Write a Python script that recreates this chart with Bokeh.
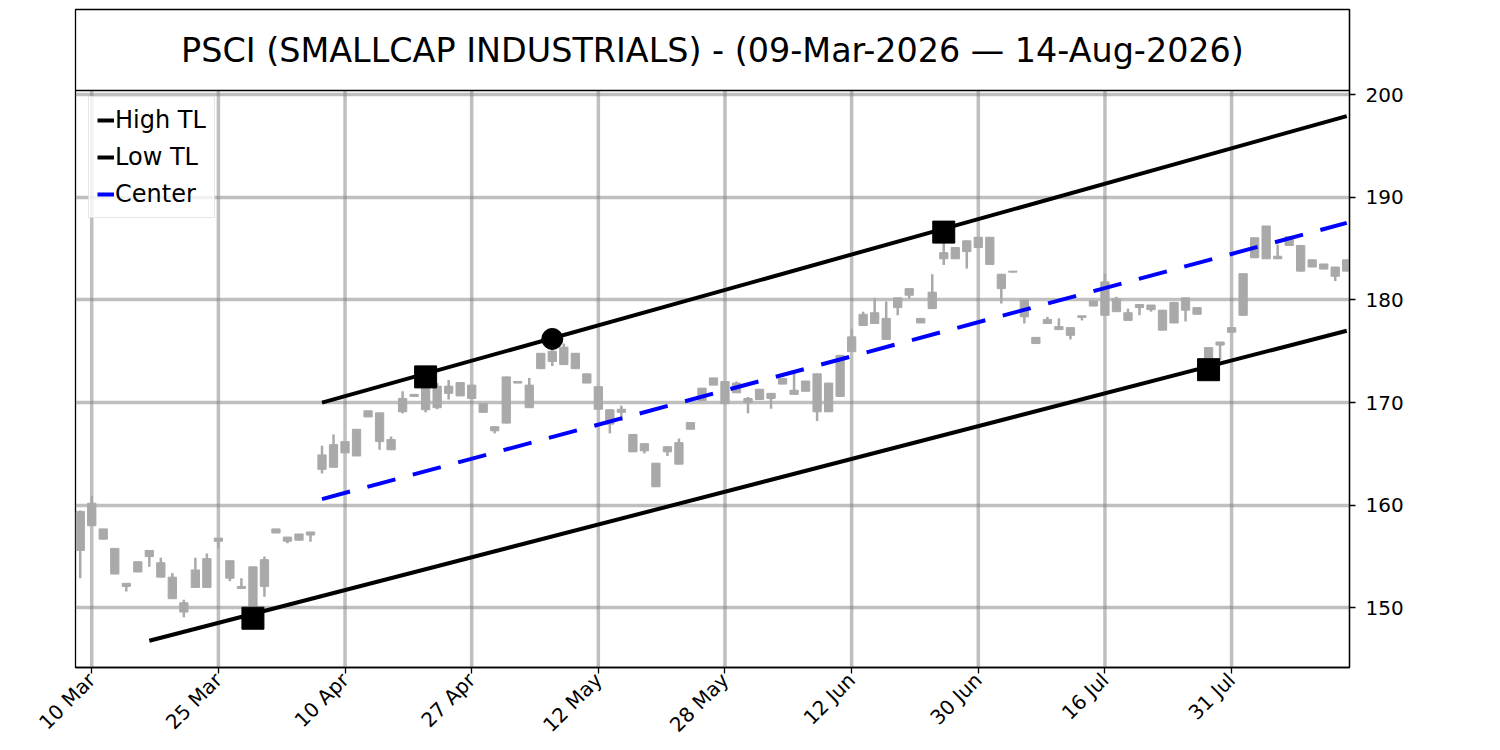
import math
from bokeh.plotting import figure
from bokeh.models import Range1d, FixedTicker, ColumnDataSource, Legend, LegendItem, Span
from bokeh.embed import file_html
from bokeh.resources import INLINE
from bokeh.core.properties import value

title_text = "PSCI (SMALLCAP INDUSTRIALS) - (09-Mar-2026 \u2014 14-Aug-2026)"

tick_index = [1, 12, 23, 34, 45, 56, 67, 78, 89, 100]
tick_labels = ["10 Mar", "25 Mar", "10 Apr", "27 Apr", "12 May",
               "28 May", "12 Jun", "30 Jun", "16 Jul", "31 Jul"]
y_ticks = [150, 160, 170, 180, 190, 200]

opens = [
    155.6, 158.0, 157.7, 155.8, 152.4, 154.5, 155.6, 154.4, 153.0, 150.5,
    152.0, 152.0, 156.8, 154.6, 152.1, 154.0, 152.1, 157.3, 156.9, 157.2,
    157.4, 163.5, 163.7, 166.2, 164.8, 169.2, 169.0, 166.4, 169.1, 170.8,
    169.3, 171.6, 170.9, 171.95, 171.7, 169.9, 167.65, 168.0, 172.05, 169.5,
    173.3, 174.0, 175.4, 174.8, 172.8, 171.55, 169.3, 169.35, 166.9, 166.0,
    164.1, 165.2, 164.0, 167.4, 170.2, 171.7, 172.05, 171.9, 170.4, 171.3,
    170.9, 171.8, 171.2, 172.1, 172.8, 169.1, 170.6, 174.95, 177.5, 178.75,
    178.2, 179.25, 180.45, 178.2, 179.15, 184.0, 185.1, 185.75, 185.1, 186.1,
    182.5, 182.8, 180.0, 176.35, 177.7, 177.4, 177.3, 178.45, 179.4, 178.5,
    180.1, 178.75, 179.55, 179.5, 179.0, 177.75, 180.2, 179.25, 174.0, 175.9,
    176.85, 178.5, 184.1, 187.2, 184.25, 186.15, 185.3, 183.9, 183.5, 183.2, 182.8,
]
closes = [
    159.4, 160.2, 156.7, 153.3, 152.1, 153.5, 155.0, 153.0, 150.9, 149.6,
    153.7, 154.8, 156.5, 152.9, 151.9, 150.0, 154.7, 157.7, 156.5, 156.6,
    157.1, 164.9, 165.9, 165.1, 167.4, 168.6, 166.2, 165.4, 170.4, 170.6,
    171.6, 169.5, 171.6, 170.65, 170.4, 169.05, 167.25, 172.5, 171.9, 171.7,
    174.8, 175.0, 173.7, 173.3, 171.9, 169.35, 167.9, 169.05, 165.2, 165.3,
    161.8, 165.7, 166.1, 168.05, 171.4, 172.4, 169.9, 170.95, 170.0, 170.3,
    170.4, 172.35, 170.8, 171.1, 169.1, 171.9, 174.6, 176.4, 178.6, 177.7,
    176.15, 180.2, 181.1, 177.75, 180.75, 184.6, 184.0, 184.7, 186.1, 183.45,
    181.1, 182.7, 178.35, 175.75, 178.1, 177.1, 176.55, 178.3, 179.9, 181.75,
    178.85, 178.0, 179.25, 179.05, 177.05, 179.75, 179.0, 178.6, 175.35, 175.6,
    177.3, 182.55, 186.05, 184.0, 184.0, 185.3, 182.8, 183.2, 183.0, 182.3, 183.9,
]
highs = [
    159.5, 160.9, 157.7, 155.8, 152.4, 154.5, 155.6, 154.9, 153.4, 150.8,
    154.9, 155.3, 156.8, 154.6, 152.9, 154.0, 155.0, 157.7, 156.9, 157.2,
    157.4, 165.8, 166.9, 166.2, 167.4, 169.2, 169.0, 166.7, 171.1, 170.8,
    172.5, 171.9, 172.2, 171.95, 171.7, 169.9, 167.65, 172.5, 172.05, 172.4,
    174.8, 176.2, 175.75, 174.8, 172.8, 171.55, 169.3, 169.7, 166.9, 166.0,
    164.1, 165.7, 166.5, 168.05, 171.4, 172.4, 172.05, 172.05, 170.55, 171.3,
    170.9, 172.35, 173.0, 172.1, 172.8, 171.9, 174.6, 177.2, 178.85, 180.2,
    179.85, 180.2, 181.1, 178.2, 182.5, 186.6, 185.1, 185.75, 186.1, 186.1,
    182.5, 182.8, 180.0, 176.35, 178.35, 178.2, 177.3, 178.45, 179.9, 182.55,
    180.3, 179.15, 179.55, 179.5, 179.0, 179.75, 180.2, 179.25, 175.35, 175.9,
    177.3, 182.55, 186.05, 187.2, 185.4, 186.15, 185.3, 183.9, 183.5, 183.2, 183.9,
]
lows = [
    152.9, 158.0, 156.7, 153.3, 151.6, 153.5, 154.0, 153.0, 150.9, 149.1,
    152.0, 152.0, 155.8, 152.6, 151.9, 149.0, 151.1, 157.3, 156.3, 156.6,
    156.45, 163.1, 163.7, 165.1, 164.8, 168.6, 165.4, 165.4, 168.95, 170.6,
    169.05, 169.35, 170.3, 170.65, 170.4, 169.05, 167.0, 168.0, 171.9, 169.5,
    173.3, 173.55, 173.7, 173.3, 171.9, 169.35, 167.0, 168.2, 165.2, 165.05,
    161.8, 164.8, 164.0, 167.4, 170.2, 171.7, 169.9, 170.95, 168.95, 170.3,
    169.4, 171.8, 170.8, 171.1, 168.2, 169.1, 170.55, 174.95, 177.5, 177.7,
    176.15, 178.5, 180.15, 177.75, 179.15, 183.4, 184.0, 183.05, 185.1, 183.45,
    179.65, 182.7, 177.7, 175.75, 177.7, 177.1, 176.15, 178.0, 179.4, 178.5,
    178.85, 178.0, 178.5, 178.85, 177.05, 177.75, 177.9, 178.6, 173.2, 174.1,
    176.85, 178.5, 184.1, 184.0, 184.0, 185.3, 182.8, 183.2, 183.0, 181.85, 182.8,
]

high_tl_x = [21, 110]
high_tl_y = [170.0, 197.9]
low_tl_x = [6, 110]
low_tl_y = [146.8, 177.0]
center_x = [21, 110]
center_y = [160.6, 187.5]
pivot_sq_x = [15, 30, 75, 98]
pivot_sq_y = [149.0, 172.5, 186.6, 173.2]
pivot_ci_x = [41]
pivot_ci_y = [176.2]

FONT = "DejaVu Sans"
W, H = 1480, 750

# axis limits: price panel and the title band on top of it
x_lo, x_hi = -0.41, 110.24
y_lo, y_hi = 144.2, 200.39
y_top = 208.28

idx = list(range(len(opens)))
src = ColumnDataSource(dict(
    x=idx,
    top=[max(o, c) for o, c in zip(opens, closes)],
    bottom=[min(o, c) for o, c in zip(opens, closes)],
    high=highs,
    low=lows,
))

p = figure(width=W, height=H, output_backend="svg", toolbar_location=None,
           x_range=Range1d(x_lo, x_hi), y_range=Range1d(y_lo, y_top),
           y_axis_location="right")
p.min_border_left = 75
p.min_border_right = W - 1349
p.min_border_top = 9
p.min_border_bottom = H - 667
p.outline_line_color = "black"
p.outline_line_width = 1.3

p.xaxis.ticker = FixedTicker(ticks=tick_index)
p.xaxis.major_label_overrides = {i: lab for i, lab in zip(tick_index, tick_labels)}
p.xaxis.major_label_orientation = math.pi / 4
p.yaxis.ticker = FixedTicker(ticks=y_ticks)
for ax in (p.xaxis[0], p.yaxis[0]):
    ax.major_label_text_font = FONT
    ax.major_label_text_color = "black"
    ax.major_label_text_font_size = "20px"
    ax.axis_line_color = "black"
    ax.axis_line_width = 1.3
    ax.major_tick_line_color = "black"
    ax.major_tick_line_width = 1.3
    ax.major_tick_in = 0
    ax.major_tick_out = 6
    ax.minor_tick_line_color = None
p.xaxis.major_label_standoff = 3
p.yaxis.major_label_standoff = 10

# grid: horizontal via Grid, vertical limited to the price panel
p.xgrid.visible = False
p.ygrid.grid_line_color = "gray"
p.ygrid.grid_line_alpha = 0.5
p.ygrid.grid_line_width = 3.5
p.segment(x0=tick_index, y0=[y_lo] * len(tick_index), x1=tick_index,
          y1=[y_hi] * len(tick_index), line_color="gray", line_alpha=0.5,
          line_width=3.5)

candle_color = "#a9a9a9"
p.segment(x0="x", y0="low", x1="x", y1="high", source=src,
          line_color=candle_color, line_width=2.5)
p.vbar(x="x", width=0.72, top="top", bottom="bottom", source=src,
       fill_color=candle_color, line_color=candle_color, line_width=1)

r_high = p.line(high_tl_x, high_tl_y, line_color="black", line_width=4)
r_low = p.line(low_tl_x, low_tl_y, line_color="black", line_width=4)
r_center = p.line(center_x, center_y, line_color="blue", line_width=4,
                  line_dash="29 18")

p.scatter(pivot_sq_x, pivot_sq_y, marker="square", size=22,
          fill_color="black", line_color="black")
p.scatter(pivot_ci_x, pivot_ci_y, marker="circle", size=21,
          fill_color="black", line_color="black")

# title band: separator line and centered title text
p.add_layout(Span(location=y_hi, dimension="width", line_color="black",
                  line_width=1.3))
p.text(x=[(x_lo + x_hi) / 2], y=[(y_hi + y_top) / 2], text=[title_text],
       text_align="center", text_baseline="middle", text_font=value(FONT),
       text_font_size="33.4px", text_color="black")

legend = Legend(items=[
    LegendItem(label="High TL", renderers=[r_high]),
    LegendItem(label="Low TL", renderers=[r_low]),
    LegendItem(label="Center", renderers=[r_center]),
], location=(13, 449))
legend.label_text_font = FONT
legend.label_text_font_size = "24px"
legend.label_text_color = "black"
legend.glyph_width = 17
legend.glyph_height = 20
legend.label_height = 30
legend.label_standoff = 1
legend.padding = 8
legend.spacing = 7
legend.margin = 0
legend.border_line_color = "#cccccc"
legend.border_line_width = 1.3
legend.background_fill_alpha = 0.8
p.add_layout(legend)

open("out.html", "w").write(file_html(p, INLINE))
